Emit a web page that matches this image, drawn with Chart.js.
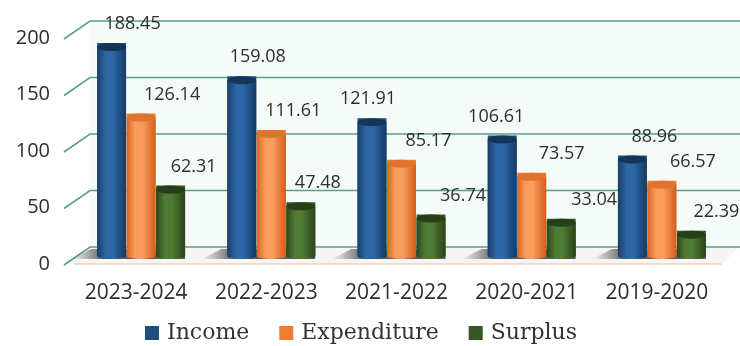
<html>
<head>
    <title>Income, Expenditure and Surplus</title>
    <style>
        html,
        body {
            margin: 0;
            padding: 0;
            background: #fff;
        }
    </style>
</head>
<body>
    <canvas id="chart" width="740" height="346"></canvas>

    <script src="https://cdn.jsdelivr.net/npm/chart.js@4.4.0/dist/chart.umd.min.js"></script>
    <script>
        const years = ['2023-2024', '2022-2023', '2021-2022', '2020-2021', '2019-2020']
        const income = [188.45, 159.08, 121.91, 106.61, 88.96]
        const expenditure = [126.14, 111.61, 85.17, 73.57, 66.57]
        const surplus = [62.31, 47.48, 36.74, 33.04, 22.39]
        const yTicks = [0, 50, 100, 150, 200]

        // sideways nudge of each value label, per series
        const labelDx = [
            [21, 16, -4, -6, 22],
            [31, 22, 27, 30, 31],
            [23, 17, 32, 33, 25]
        ]

        // cylinder shading: edge, highlight, edge, cap
        const shades = [
            ['#183f6a', '#2d67a5', '#163a63', '#123559'],
            ['#dc6420', '#f99d5e', '#d45d1a', '#e0742f'],
            ['#2c471c', '#4f7b34', '#29431a', '#273f19']
        ]

        const WALL_DX = 14, WALL_DY = -9, FRONT_DY = 8

        const wall3d = {
            id: 'wall3d',
            beforeDatasetsDraw(chart) {
                const c = chart.ctx
                const y = chart.scales.y
                const area = chart.chartArea
                const backX = area.left + WALL_DX
                const frontX = area.left - 12
                const top = y.getPixelForValue(200) + WALL_DY
                const floorBack = y.getPixelForValue(0) + WALL_DY
                const floorFront = y.getPixelForValue(0) + FRONT_DY
                c.save()
                // back wall
                c.fillStyle = '#f5fbf8'
                c.fillRect(backX, top, chart.width - backX, floorBack - top)
                // floor
                c.fillStyle = '#f6f5f3'
                c.beginPath()
                c.moveTo(frontX, floorFront)
                c.lineTo(backX, floorBack)
                c.lineTo(chart.width, floorBack)
                c.lineTo(area.right - 5, floorFront)
                c.closePath()
                c.fill()
                c.strokeStyle = '#ecdcd0'
                c.lineWidth = 2
                c.beginPath()
                c.moveTo(frontX + 10, floorFront)
                c.lineTo(area.right - 5, floorFront)
                c.stroke()
                // grid lines on the wall, with the slanted side edge
                c.strokeStyle = '#58a08c'
                c.lineWidth = 1.6
                yTicks.forEach(v => {
                    const py = y.getPixelForValue(v)
                    c.beginPath()
                    c.moveTo(frontX, py + FRONT_DY + 1)
                    c.lineTo(backX, py + WALL_DY)
                    c.lineTo(chart.width, py + WALL_DY)
                    c.stroke()
                })
                // ground shadows to the left of each group
                const first = chart.getDatasetMeta(0).data
                const last = chart.getDatasetMeta(2).data
                first.forEach((bar, i) => {
                    const l = bar.x - bar.width / 2
                    const r = last[i].x + last[i].width / 2
                    const b = bar.base
                    const g = c.createLinearGradient(l - 26, 0, l + 6, 0)
                    g.addColorStop(0, 'rgba(70,70,70,0)')
                    g.addColorStop(1, 'rgba(45,45,45,0.75)')
                    c.fillStyle = g
                    c.beginPath()
                    c.moveTo(l - 26, b + 3)
                    c.lineTo(l - 6, b - 7)
                    c.lineTo(r, b - 7)
                    c.lineTo(r, b + 3)
                    c.closePath()
                    c.fill()
                })
                c.restore()
            },
            afterDatasetsDraw(chart) {
                const c = chart.ctx
                c.save()
                chart.data.datasets.forEach((ds, d) => {
                    const s = shades[d]
                    chart.getDatasetMeta(d).data.forEach((bar, i) => {
                        const l = bar.x - bar.width / 2
                        const w = bar.width
                        const g = c.createLinearGradient(l, 0, l + w, 0)
                        g.addColorStop(0, s[0])
                        g.addColorStop(0.3, s[1])
                        g.addColorStop(0.55, s[1])
                        g.addColorStop(1, s[2])
                        c.fillStyle = g
                        c.fillRect(l, bar.y + 4, w, bar.base - bar.y - 4)
                        // rounded base and top of the cylinder
                        c.beginPath()
                        c.ellipse(bar.x, bar.base, w / 2, 3, 0, 0, Math.PI)
                        c.fill()
                        c.fillStyle = s[3]
                        c.beginPath()
                        c.ellipse(bar.x, bar.y + 4, w / 2, 4, 0, 0, Math.PI * 2)
                        c.fill()

                        c.fillStyle = '#2e2e2e'
                        c.font = '18px "Open Sans"'
                        c.textAlign = 'center'
                        c.textBaseline = 'middle'
                        c.fillText(ds.data[i].toFixed(2), bar.x + labelDx[d][i], bar.y - 19)
                    })
                })
                c.restore()
            },
            // legend row under the axis labels
            afterDraw(chart) {
                const c = chart.ctx
                const gap = 8, spacing = 30, box = 14
                c.save()
                c.font = '22px "DejaVu Serif"'
                c.textBaseline = 'middle'
                c.textAlign = 'left'
                const items = chart.data.datasets.map((ds, d) => ({
                    text: ds.label, color: ds.backgroundColor, w: box + gap + c.measureText(ds.label).width
                }))
                const total = items.reduce((a, it) => a + it.w, 0) + spacing * (items.length - 1)
                let x = 361 - total / 2
                const cy = 333
                items.forEach(it => {
                    c.fillStyle = it.color
                    c.fillRect(x, cy - box / 2, box, box)
                    c.fillStyle = '#333'
                    c.fillText(it.text, x + box + gap, cy)
                    x += it.w + spacing
                })
                c.restore()
            }
        }

        new Chart(document.getElementById('chart').getContext('2d'), {
            type: 'bar',
            data: {
                labels: years,
                datasets: [
                    { label: 'Income', data: income, backgroundColor: '#1f4e7d' },
                    { label: 'Expenditure', data: expenditure, backgroundColor: '#ed7d31' },
                    { label: 'Surplus', data: surplus, backgroundColor: '#375623' }
                ]
            },
            options: {
                responsive: false,
                animation: false,
                maintainAspectRatio: false,
                categoryPercentage: 0.68,
                barPercentage: 0.98,
                layout: {
                    padding: { top: 29, right: 13, left: 0, bottom: 40 }
                },
                scales: {
                    x: {
                        grid: { display: false },
                        border: { display: false },
                        ticks: {
                            color: '#2e2e2e',
                            font: { family: 'Open Sans', size: 21 },
                            padding: 16,
                            labelOffset: -5
                        },
                        afterFit(scale) {
                            scale.height = 50
                        }
                    },
                    y: {
                        min: 0,
                        max: 200,
                        grid: { display: false },
                        border: { display: false },
                        ticks: {
                            stepSize: 50,
                            color: '#2e2e2e',
                            font: { family: 'Open Sans', size: 20 },
                            padding: 18,
                            labelOffset: 8
                        },
                        afterFit(scale) {
                            scale.width = 76
                        }
                    }
                },
                plugins: {
                    tooltip: { enabled: false },
                    legend: { display: false }
                }
            },
            plugins: [wall3d]
        })
    </script>
</body>
</html>
